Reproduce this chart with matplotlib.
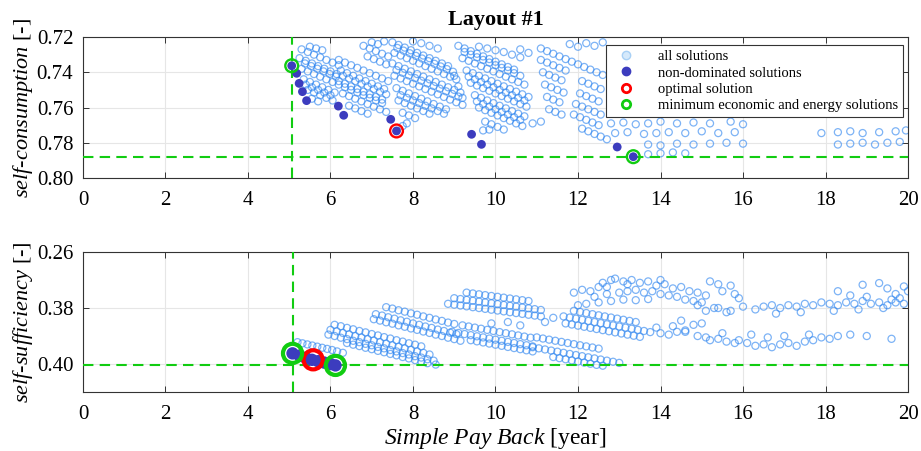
import matplotlib.pyplot as plt
from matplotlib.lines import Line2D

plt.rcParams["font.family"] = "Liberation Serif"
plt.rcParams["mathtext.fontset"] = "custom"
plt.rcParams["mathtext.it"] = "Liberation Serif:italic"
plt.rcParams["mathtext.rm"] = "Liberation Serif"

# ── data ───────────────────────────────────────────────────────────────────────
# top panel: self-consumption vs simple pay back, all solutions (by cluster)
sc_c1_x = [5.30, 5.45, 5.60, 5.75, 5.90, 6.05, 6.20,
           5.25, 5.40, 5.55, 5.70, 5.85, 6.00, 6.15,
           5.30, 5.45, 5.60, 5.75, 5.90, 6.05, 6.20,
           5.35, 5.50, 5.65, 5.80, 5.95, 6.10,
           5.45, 5.60, 5.75, 5.90, 6.05,
           5.55, 5.70,
           5.50, 5.65, 5.80,
           5.38, 5.53, 5.68, 5.83, 5.98, 6.13,
           5.40, 5.55, 5.70, 5.85, 6.00]
sc_c1_y = [.7270, .7285, .7300, .7315, .7330, .7345, .7360,
           .7320, .7335, .7350, .7365, .7380, .7395, .7410,
           .7380, .7395, .7410, .7425, .7440, .7455, .7470,
           .7440, .7455, .7470, .7485, .7500, .7515,
           .7500, .7515, .7530, .7545, .7560,
           .7550, .7565,
           .7255, .7265, .7275,
           .7350, .7365, .7380, .7395, .7410, .7425,
           .7470, .7485, .7500, .7515, .7530]

sc_c2_x = [6.20, 6.35, 6.50, 6.65, 6.80, 6.95, 7.10, 7.25, 7.40,
           6.25, 6.40, 6.55, 6.70, 6.85, 7.00, 7.15, 7.30,
           6.20, 6.35, 6.50, 6.65, 6.80, 6.95, 7.10, 7.25,
           6.30, 6.45, 6.60, 6.75, 6.90, 7.05, 7.20, 7.35,
           6.45, 6.60, 6.75, 6.90,
           6.80, 6.95, 7.10, 7.25, 7.40, 6.90, 7.05, 7.20, 7.35, 7.00, 7.15, 7.30,
           6.30, 6.45, 6.60, 6.75, 6.90, 7.05, 7.20, 7.35,
           6.35, 6.50, 6.65, 6.80, 6.95, 7.10, 7.25]
sc_c2_y = [.7330, .7345, .7360, .7375, .7390, .7405, .7420, .7435, .7450,
           .7390, .7405, .7420, .7435, .7450, .7465, .7480, .7495,
           .7450, .7465, .7480, .7495, .7510, .7525, .7540, .7555,
           .7520, .7535, .7550, .7565, .7580, .7595, .7610, .7625,
           .7590, .7605, .7620, .7635,
           .7250, .7265, .7280, .7295, .7310, .7310, .7325, .7340, .7355, .7230, .7240, .7225,
           .7420, .7435, .7450, .7465, .7480, .7495, .7510, .7525,
           .7485, .7500, .7515, .7530, .7545, .7560, .7575]

sc_c3_x = [7.50, 7.65, 7.80, 7.95, 8.10, 8.25, 8.40, 8.55, 8.70, 8.85,
           7.55, 7.70, 7.85, 8.00, 8.15, 8.30, 8.45, 8.60, 8.75, 8.90, 9.05,
           7.50, 7.65, 7.80, 7.95, 8.10, 8.25, 8.40, 8.55, 8.70, 8.85, 9.00, 9.15,
           7.55, 7.70, 7.85, 8.00, 8.15, 8.30, 8.45, 8.60, 8.75, 8.90, 9.05, 9.20,
           7.60, 7.75, 7.90, 8.05, 8.20, 8.35, 8.50, 8.65, 8.80,
           7.65, 7.80, 7.95, 8.10, 8.25, 8.40,
           7.75, 7.90, 8.05, 7.85, 7.75,
           8.20, 8.40, 8.60, 8.00,
           7.62, 7.77, 7.92, 8.07, 8.22, 8.37, 8.52, 8.67, 8.82, 8.97,
           7.60, 7.75, 7.90, 8.05, 8.20, 8.35, 8.50, 8.65, 8.80, 8.95, 9.10,
           7.70, 7.85, 8.00, 8.15, 8.30, 8.45, 8.60, 8.75]
sc_c3_y = [.7230, .7245, .7260, .7275, .7290, .7305, .7320, .7335, .7350, .7365,
           .7290, .7305, .7320, .7335, .7350, .7365, .7380, .7395, .7410, .7425, .7440,
           .7350, .7365, .7380, .7395, .7410, .7425, .7440, .7455, .7470, .7485, .7500, .7515,
           .7420, .7435, .7450, .7465, .7480, .7495, .7510, .7525, .7540, .7555, .7570, .7585,
           .7490, .7505, .7520, .7535, .7550, .7565, .7580, .7595, .7610,
           .7560, .7575, .7590, .7605, .7620, .7635,
           .7630, .7645, .7660, .7690, .7705,
           .7235, .7250, .7265, .7225,
           .7262, .7277, .7292, .7307, .7322, .7337, .7352, .7367, .7382, .7397,
           .7388, .7403, .7418, .7433, .7448, .7463, .7478, .7493, .7508, .7523, .7538,
           .7530, .7545, .7560, .7575, .7590, .7605, .7620, .7635]

sc_c4_x = [9.10, 9.25, 9.40, 9.55, 9.70, 9.85, 10.00, 10.15, 10.30, 10.45,
           9.20, 9.35, 9.50, 9.65, 9.80, 9.95, 10.10, 10.25, 10.40, 10.55, 10.70,
           9.30, 9.45, 9.60, 9.75, 9.90, 10.05, 10.20, 10.35, 10.50, 10.65, 10.80,
           9.40, 9.55, 9.70, 9.85, 10.00, 10.15, 10.30, 10.45, 10.60, 10.75,
           9.50, 9.65, 9.80, 9.95, 10.10, 10.25, 10.40, 10.55, 10.70,
           9.60, 9.75, 9.90, 10.05, 10.20, 10.35, 10.50, 10.65,
           9.75, 9.90, 10.05, 10.20, 9.70, 9.85,
           9.60, 9.80, 10.00, 10.20, 10.40, 10.60, 10.60, 10.80,
           9.00, 9.10, 9.20,
           9.25, 9.40, 9.55, 9.70, 9.85, 10.00, 10.15, 10.30, 10.45, 10.60,
           9.35, 9.50, 9.65, 9.80, 9.95, 10.10, 10.25, 10.40, 10.55, 10.70,
           9.55, 9.70, 9.85, 10.00, 10.15, 10.30, 10.45, 10.60]
sc_c4_y = [.7250, .7265, .7280, .7295, .7310, .7325, .7340, .7355, .7370, .7385,
           .7320, .7335, .7350, .7365, .7380, .7395, .7410, .7425, .7440, .7455, .7470,
           .7390, .7405, .7420, .7435, .7450, .7465, .7480, .7495, .7510, .7525, .7540,
           .7460, .7475, .7490, .7505, .7520, .7535, .7550, .7565, .7580, .7595,
           .7530, .7545, .7560, .7575, .7590, .7605, .7620, .7635, .7650,
           .7600, .7615, .7630, .7645, .7660, .7675, .7690, .7705,
           .7680, .7695, .7710, .7725, .7730, .7725,
           .7255, .7265, .7275, .7285, .7300, .7315, .7270, .7290,
           .7420, .7480, .7545,
           .7285, .7300, .7315, .7330, .7345, .7360, .7375, .7390, .7405, .7420,
           .7425, .7440, .7455, .7470, .7485, .7500, .7515, .7530, .7545, .7560,
           .7565, .7580, .7595, .7610, .7625, .7640, .7655, .7670]

sc_c5_x = [11.10, 11.25, 11.40, 11.55, 11.70, 11.85, 12.00, 12.15, 12.30, 12.45, 12.60,
           11.10, 11.25, 11.40, 11.55, 11.70, 12.10, 12.25, 12.40, 12.55,
           11.15, 11.30, 11.45, 11.60, 12.05, 12.20, 12.35, 12.50,
           11.20, 11.35, 11.50, 11.65, 11.95, 12.10, 12.25, 12.40, 12.55,
           11.25, 11.40, 11.55, 11.90, 12.05, 12.20, 12.35, 12.50,
           11.30, 11.45, 11.60, 12.10, 12.25, 12.40, 12.55, 12.70,
           11.80, 12.00, 12.20, 12.40, 12.60, 10.90, 11.10]
sc_c5_y = [.7265, .7280, .7295, .7310, .7325, .7340, .7355, .7370, .7385, .7400, .7415,
           .7330, .7345, .7360, .7375, .7390, .7450, .7465, .7480, .7495,
           .7400, .7415, .7430, .7445, .7520, .7535, .7550, .7565,
           .7470, .7485, .7500, .7515, .7580, .7595, .7610, .7625, .7640,
           .7540, .7555, .7570, .7640, .7655, .7670, .7685, .7700,
           .7610, .7625, .7640, .7720, .7735, .7750, .7765, .7780,
           .7240, .7255, .7235, .7250, .7230, .7690, .7680]

sc_c6_x = [12.80, 13.10, 13.40, 13.70, 14.00, 14.40, 14.80, 15.20, 15.70, 16.00,
           12.90, 13.20, 13.60, 13.90, 14.20, 14.60, 15.00, 15.40, 15.80,
           17.90, 18.30, 18.60, 18.90, 19.30, 19.70, 19.95,
           13.70, 14.00, 14.40, 14.80, 15.20, 15.60, 16.00,
           18.30, 18.60, 18.90, 19.20, 19.50, 19.80,
           13.70, 14.00, 14.30, 14.60]
sc_c6_y = [.7690, .7685, .7695, .7690, .7680, .7690, .7685, .7690, .7680, .7695,
           .7745, .7740, .7750, .7745, .7740, .7745, .7735, .7745, .7740,
           .7745, .7740, .7735, .7745, .7740, .7735, .7730,
           .7810, .7815, .7805, .7810, .7805, .7800, .7805,
           .7810, .7805, .7800, .7810, .7800, .7795,
           .7865, .7860, .7855, .7860]

sc_nd_x = [5.06, 5.18, 5.24, 5.32, 5.42, 6.19, 6.32, 7.46, 7.60, 9.42, 9.66, 12.95, 13.34]
sc_nd_y = [.7363, .7406, .7463, .7510, .7561, .7592, .7644, .7667, .7733, .7752, .7809, .7824, .7879]
sc_opt_x = [7.60]
sc_opt_y = [.7733]
sc_min_x = [5.06, 13.34]
sc_min_y = [.7363, .7879]

# bottom panel: self-sufficiency vs simple pay back, all solutions (by band)
ss_a_x = [5.20, 5.32, 5.44, 5.56, 5.68, 5.80, 5.92, 6.04, 6.16, 6.30]
ss_a_y = [.3922, .3926, .3930, .3934, .3938, .3942, .3946, .3950, .3955, .3960]

ss_b_x = [6.10, 6.25, 6.40, 6.55, 6.70, 6.85, 7.00, 7.15, 7.30, 7.45, 7.60, 7.75, 7.90, 8.05, 8.20,
          6.00, 6.15, 6.30, 6.45, 6.60, 6.75, 6.90, 7.05, 7.20, 7.35, 7.50, 7.65, 7.80, 7.95, 8.10, 8.25, 8.40,
          5.95, 6.10, 6.25, 6.40, 6.55, 6.70, 6.85, 7.00, 7.15, 7.30, 7.45, 7.60, 7.75, 7.90, 8.05, 8.20, 8.35, 8.50,
          6.40, 6.55, 6.70, 6.85, 7.00, 7.15, 7.30, 7.45, 7.60, 7.75, 7.90, 8.05, 8.20, 8.35, 8.55]
ss_b_y = [.3860, .3865, .3871, .3876, .3882, .3887, .3893, .3898, .3904, .3909, .3915, .3920, .3926, .3931, .3937,
          .3878, .3883, .3889, .3894, .3900, .3905, .3911, .3916, .3922, .3927, .3933, .3938, .3944, .3949, .3955, .3960, .3966,
          .3895, .3900, .3906, .3911, .3917, .3922, .3928, .3933, .3939, .3944, .3950, .3955, .3961, .3966, .3972, .3977, .3983, .3988,
          .3925, .3931, .3936, .3942, .3947, .3953, .3958, .3964, .3969, .3975, .3980, .3986, .3991, .3997, .4002]

ss_c_x = [7.35, 7.50, 7.65, 7.80, 7.95, 8.10, 8.25, 8.40, 8.55, 8.70, 8.85, 9.00,
          7.10, 7.25, 7.40, 7.55, 7.70, 7.85, 8.00, 8.15, 8.30, 8.45, 8.60, 8.75, 8.90, 9.05,
          7.05, 7.20, 7.35, 7.50, 7.65, 7.80, 7.95, 8.10, 8.25, 8.40, 8.55, 8.70, 8.85, 9.00, 9.15]
ss_c_y = [.3797, .3802, .3808, .3813, .3819, .3824, .3830, .3835, .3841, .3846, .3852, .3857,
          .3822, .3827, .3833, .3838, .3844, .3849, .3855, .3860, .3866, .3871, .3877, .3882, .3888, .3893,
          .3840, .3845, .3851, .3856, .3862, .3867, .3873, .3878, .3884, .3889, .3895, .3900, .3906, .3911, .3917]

ss_d_x = [9.30, 9.45, 9.60, 9.75, 9.90, 10.05, 10.20, 10.35, 10.50, 10.65, 10.80,
          9.00, 9.15, 9.30, 9.45, 9.60, 9.75, 9.90, 10.05, 10.20, 10.35, 10.50, 10.65, 10.80, 10.95, 11.10,
          8.85, 9.00, 9.15, 9.30, 9.45, 9.60, 9.75, 9.90, 10.05, 10.20, 10.35, 10.50, 10.65, 10.80, 10.95, 11.10,
          9.90, 10.30, 10.60, 11.20, 11.40]
ss_d_y = [.3745, .3748, .3751, .3754, .3757, .3760, .3763, .3766, .3769, .3772, .3775,
          .3765, .3768, .3771, .3774, .3777, .3780, .3783, .3786, .3789, .3792, .3795, .3798, .3801, .3804, .3807,
          .3785, .3788, .3791, .3794, .3797, .3800, .3803, .3806, .3809, .3812, .3815, .3818, .3821, .3824, .3827, .3830,
          .3855, .3850, .3862, .3850, .3835]

ss_e_x = [9.20, 9.35, 9.50, 9.65, 9.80, 9.95, 10.10, 10.25, 10.40, 10.55, 10.70, 10.85,
          8.95, 9.10, 9.25, 9.40, 9.55, 9.70, 9.85, 10.00, 10.15, 10.30, 10.45, 10.60, 10.75, 10.90,
          9.40, 9.55, 9.70, 9.85, 10.00, 10.15, 10.30, 10.45, 10.60, 10.75, 10.90]
ss_e_y = [.3862, .3866, .3870, .3874, .3878, .3882, .3886, .3890, .3894, .3898, .3902, .3906,
          .3885, .3889, .3893, .3897, .3901, .3905, .3909, .3913, .3917, .3921, .3925, .3929, .3933, .3937,
          .3915, .3919, .3923, .3927, .3931, .3935, .3939, .3943, .3947, .3951, .3955]

ss_f_x = [11.00, 11.15, 11.30, 11.45, 11.60, 11.75, 11.90, 12.05, 12.20, 12.35, 12.50,
          10.90, 11.05, 11.20, 11.35, 11.50, 11.65, 11.80, 11.95, 12.10, 12.25, 12.40, 12.55, 12.70, 12.85, 13.00,
          11.40, 11.55, 11.70, 11.85, 12.00, 12.15, 12.30, 12.45, 12.60]
ss_f_y = [.3905, .3909, .3913, .3917, .3921, .3925, .3929, .3933, .3937, .3941, .3945,
          .3940, .3944, .3948, .3952, .3956, .3960, .3964, .3968, .3972, .3976, .3980, .3984, .3988, .3992, .3996,
          .3975, .3979, .3983, .3987, .3991, .3995, .3999, .4003, .4006]

ss_g_x = [11.90, 12.05, 12.20, 12.35, 12.50, 12.65, 12.80, 12.95, 13.10, 13.25, 13.40,
          11.65, 11.80, 11.95, 12.10, 12.25, 12.40, 12.55, 12.70, 12.85, 13.00, 13.15, 13.30, 13.45, 13.60, 13.75,
          11.70, 11.85, 12.00, 12.15, 12.30, 12.45, 12.60, 12.75, 12.90, 13.05, 13.20, 13.35, 13.50]
ss_g_y = [.3810, .3814, .3818, .3822, .3826, .3830, .3834, .3838, .3842, .3846, .3850,
          .3830, .3834, .3838, .3842, .3846, .3850, .3854, .3858, .3862, .3866, .3870, .3874, .3878, .3882, .3886,
          .3855, .3859, .3863, .3867, .3871, .3875, .3879, .3883, .3887, .3891, .3895, .3899, .3903]

ss_h_x = [11.90, 12.10, 12.30, 12.50, 12.60, 12.80, 12.90, 13.10, 13.30, 13.50, 13.70, 13.90, 14.10, 14.30, 14.50, 14.70, 14.90, 15.10,
          12.40, 12.70, 13.00, 13.20, 13.40, 13.60, 13.80, 14.00, 14.20, 14.40, 14.60, 14.80, 15.00,
          12.00, 12.20, 12.50, 12.80, 13.10, 13.40, 13.70, 13.20, 12.70, 14.00,
          15.20, 15.40, 15.70, 15.50, 15.80, 15.90]
ss_h_y = [.3745, .3735, .3740, .3725, .3710, .3700, .3695, .3705, .3700, .3710, .3705, .3720, .3715, .3730, .3725, .3740, .3745, .3755,
          .3760, .3750, .3745, .3740, .3735, .3745, .3740, .3750, .3755, .3760, .3770, .3775, .3780,
          .3790, .3785, .3780, .3775, .3770, .3772, .3768, .3715, .3725, .3700,
          .3705, .3715, .3720, .3740, .3750, .3765]

ss_i_x = [14.00, 14.20, 14.40, 14.60, 13.90, 14.30, 14.80, 15.00, 14.50, 15.10, 15.30, 15.60, 14.90]
ss_i_y = [.3890, .3895, .3885, .3880, .3870, .3865, .3860, .3855, .3845, .3810, .3800, .3815, .3790]

ss_j_x = [15.40, 15.70, 16.00, 16.30, 16.50, 16.70, 16.90, 17.10, 17.30, 17.50, 17.70, 17.90, 18.10, 18.30, 18.50,
          18.70, 18.90, 19.10, 19.30, 19.50, 19.70, 19.90, 18.20, 18.80, 19.40, 17.40, 16.80, 19.80, 19.60]
ss_j_y = [.3800, .3810, .3795, .3805, .3795, .3790, .3800, .3790, .3795, .3785, .3790, .3780, .3785, .3790, .3780,
          .3785, .3775, .3785, .3780, .3790, .3780, .3785, .3810, .3805, .3800, .3815, .3820, .3765, .3770]

ss_k_x = [14.60, 14.90, 15.10, 15.20, 15.40, 15.60, 15.80, 15.90, 16.10, 16.30, 16.50, 16.70, 16.90, 17.10,
          17.30, 17.50, 17.70, 17.90, 18.10, 18.30, 18.60, 19.00, 19.60, 15.50, 16.20, 16.60, 17.00, 17.60]
ss_k_y = [.3885, .3900, .3905, .3915, .3910, .3920, .3925, .3915, .3925, .3935, .3930, .3940, .3930, .3925,
          .3935, .3920, .3915, .3905, .3910, .3900, .3895, .3900, .3910, .3890, .3895, .3905, .3900, .3895]

ss_l_x = [18.30, 18.90, 19.30, 19.90, 19.50, 18.60, 19.00, 19.70, 20.00]
ss_l_y = [.3740, .3717, .3711, .3723, .3730, .3755, .3760, .3750, .3740]

ss_nd_x = [5.08, 5.25, 5.40, 5.55, 5.70, 5.85, 6.00, 6.12]
ss_nd_y = [.3962, .3970, .3978, .3985, .3990, .3995, .4000, .4005]
ss_opt_x = [5.58]
ss_opt_y = [.3985]
ss_min_x = [5.08, 6.12]
ss_min_y = [.3962, .4005]

# ── assemble ───────────────────────────────────────────────────────────────────
sc_groups = [(sc_c1_x, sc_c1_y), (sc_c2_x, sc_c2_y), (sc_c3_x, sc_c3_y),
             (sc_c4_x, sc_c4_y), (sc_c5_x, sc_c5_y), (sc_c6_x, sc_c6_y)]
ss_groups = [(ss_a_x, ss_a_y), (ss_b_x, ss_b_y), (ss_c_x, ss_c_y), (ss_d_x, ss_d_y),
             (ss_e_x, ss_e_y), (ss_f_x, ss_f_y), (ss_g_x, ss_g_y), (ss_h_x, ss_h_y),
             (ss_i_x, ss_i_y), (ss_j_x, ss_j_y), (ss_k_x, ss_k_y), (ss_l_x, ss_l_y)]

for i, (gx, gy) in enumerate(sc_groups + ss_groups):
    assert len(gx) == len(gy), (i, len(gx), len(gy))

sc_all_x = [v for gx, _ in sc_groups for v in gx]
sc_all_y = [v for _, gy in sc_groups for v in gy]
ss_all_x = [v for gx, _ in ss_groups for v in gx]
ss_all_y = [v for _, gy in ss_groups for v in gy]

# ── plot ───────────────────────────────────────────────────────────────────────
ALL_EDGE = (0.18, 0.52, 0.94, 0.62)
ND_COLOR = "#3c3cbe"
GREEN = "#11cc11"

fig = plt.figure(figsize=(9.21, 4.51), dpi=100)
ax1 = fig.add_axes([0.0901, 0.6053, 0.8958, 0.3126])
ax2 = fig.add_axes([0.0901, 0.1308, 0.8958, 0.3104])

panels = [
    (ax1, sc_all_x, sc_all_y, sc_nd_x, sc_nd_y, sc_opt_x, sc_opt_y, sc_min_x, sc_min_y, 40, 85, 1.7),
    (ax2, ss_all_x, ss_all_y, ss_nd_x, ss_nd_y, ss_opt_x, ss_opt_y, ss_min_x, ss_min_y, 80, 190, 3.0),
]

for ax, ax_x, ax_y, nx, ny, ox, oy, mx, my, nd_s, ring_s, ring_lw in panels:
    ax.scatter(ax_x, ax_y, s=26, facecolors="none", edgecolors=ALL_EDGE,
               linewidths=0.9, zorder=2)
    ax.axvline(mx[0], color=GREEN, linestyle=(0, (5, 3)), linewidth=1.5, zorder=3)
    ax.axhline(my[-1], color=GREEN, linestyle=(0, (5, 3)), linewidth=1.5, zorder=3)
    ax.scatter(nx, ny, s=nd_s, color=ND_COLOR, edgecolors="none", zorder=4)
    ax.scatter(ox, oy, s=ring_s, facecolors="none", edgecolors="red",
               linewidths=ring_lw, zorder=5)
    ax.scatter(mx, my, s=ring_s, facecolors="none", edgecolors=GREEN,
               linewidths=ring_lw, zorder=5)

    ax.set_xlim(0, 20)
    ax.set_xticks(range(0, 21, 2))
    ax.grid(True, color="#e6e6e6", linewidth=0.8)
    ax.set_axisbelow(True)
    ax.tick_params(direction="in", top=True, right=True, labelsize=15,
                   length=4, width=0.7, color="#333333")
    ax.tick_params(axis="x", pad=9)
    ax.tick_params(axis="y", pad=7)
    for sp in ax.spines.values():
        sp.set_color("#333333")
        sp.set_linewidth(0.8)

ax1.set_ylim(0.80, 0.72)
ax1.set_yticks([0.72, 0.74, 0.76, 0.78, 0.80])
ax1.set_yticklabels(["0.72", "0.74", "0.76", "0.78", "0.80"])
ax1.set_ylabel(r"$\it{self}$-$\it{consumption}$ [-]", fontsize=16, labelpad=1)
ax1.set_title("Layout #1", fontsize=16, fontweight="bold", pad=9)

ax2.set_ylim(0.41, 0.36)
ax2.set_yticks([0.36, 0.38, 0.40])
ax2.set_yticklabels(["0.26", "0.38", "0.40"])
ax2.set_ylabel(r"$\it{self}$-$\it{sufficiency}$ [-]", fontsize=16, labelpad=1)
ax2.set_xlabel(r"$\it{Simple\ Pay\ Back}$ [year]", fontsize=17, labelpad=2)

handles = [
    Line2D([], [], linestyle="none", marker="o", markersize=6,
           markerfacecolor="#d5e9fb", markeredgecolor="#a8d0f5"),
    Line2D([], [], linestyle="none", marker="o", markersize=6,
           markerfacecolor=ND_COLOR, markeredgecolor=ND_COLOR),
    Line2D([], [], linestyle="none", marker="o", markersize=6,
           markerfacecolor="white", markeredgecolor="red", markeredgewidth=2),
    Line2D([], [], linestyle="none", marker="o", markersize=6,
           markerfacecolor="white", markeredgecolor=GREEN, markeredgewidth=2),
]
labels = ["all solutions", "non-dominated solutions", "optimal solution",
          "minimum economic and energy solutions"]
leg = ax1.legend(handles, labels, loc="upper right", bbox_to_anchor=(0.994, 0.943),
                 fontsize=10.5, frameon=True, fancybox=False, framealpha=1,
                 edgecolor="#333333", borderaxespad=0, handletextpad=1.2,
                 labelspacing=0.2, borderpad=0.35)
leg.get_frame().set_linewidth(0.8)
leg.set_zorder(10)

fig.savefig("out.png", dpi=100)
